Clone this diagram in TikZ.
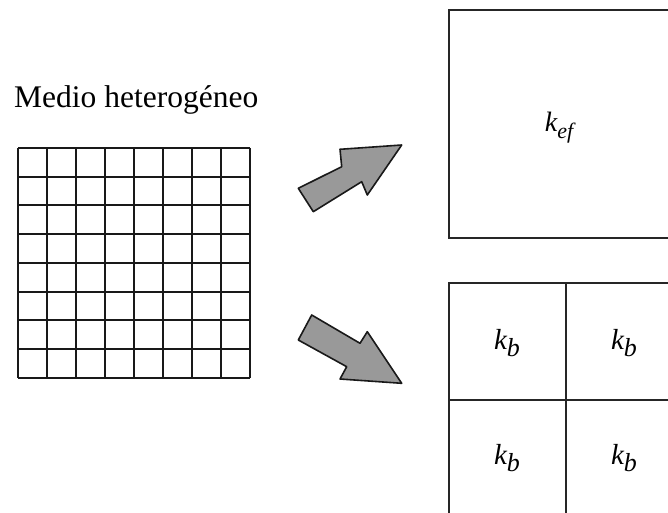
\documentclass[tikz,border=0pt]{standalone}
\usepackage{fontspec}
\setmainfont{Liberation Serif}
\tikzset{
  gridline/.style={line width=2.5pt, draw=black!90},
  boxline/.style={line width=2.5pt, draw=black!85},
  fatarrow/.style={fill=black!40, draw=black!90, line width=1.6pt, line join=round},
  txt/.style={inner sep=0pt}
}
\begin{document}
\begin{tikzpicture}[x=1pt,y=-1pt]
\useasboundingbox (0,0) rectangle (668,513);
\fill[white] (0,0) rectangle (668,513);
% title
\node[anchor=base west, txt, font=\fontsize{31.5}{36}\selectfont] (title) at (14,108) {Medio heterogéneo};
% grid
\foreach \x in {18,47,76,105,134,163,192,221,250} {
  \draw[gridline] (\x,148) -- (\x,378);
}
\foreach \y in {148,177,205,234,263,292,320,349,378} {
  \draw[gridline] (18,\y) -- (250,\y);
}
% arrows
\draw[fatarrow] (298.3,188.3) -- (341.7,166.7) -- (340,149.3) -- (401.7,145) -- (367.3,195) -- (361.7,181.7) -- (313.3,211.7) -- cycle;
\draw[fatarrow] (311.7,315) -- (360,343.3) -- (367.3,331.7) -- (401.7,383.3) -- (340,379) -- (346.7,366.7) -- (298.3,340) -- cycle;
\begin{scope}
\clip (0,0) rectangle (668,513);
% top box
\draw[boxline] (449,10) rectangle (675,238);
\node[txt, font=\fontsize{28}{32}\selectfont\itshape] (kef) at (559,128) {k\raisebox{-7pt}{\fontsize{22}{26}\selectfont ef}};
% bottom box
\draw[boxline] (449,283) rectangle (683,520);
\draw[boxline] (566,283) -- (566,520);
\draw[boxline] (449,400) -- (683,400);
\node[txt, font=\fontsize{29}{33}\selectfont\itshape] (b1) at (507,343) {k\raisebox{-7pt}{\fontsize{26}{29}\selectfont b}};
\node[txt, font=\fontsize{29}{33}\selectfont\itshape] (b2) at (624,343) {k\raisebox{-7pt}{\fontsize{26}{29}\selectfont b}};
\node[txt, font=\fontsize{29}{33}\selectfont\itshape] (b3) at (507,458) {k\raisebox{-7pt}{\fontsize{26}{29}\selectfont b}};
\node[txt, font=\fontsize{29}{33}\selectfont\itshape] (b4) at (624,458) {k\raisebox{-7pt}{\fontsize{26}{29}\selectfont b}};
\end{scope}
\end{tikzpicture}
\end{document}
